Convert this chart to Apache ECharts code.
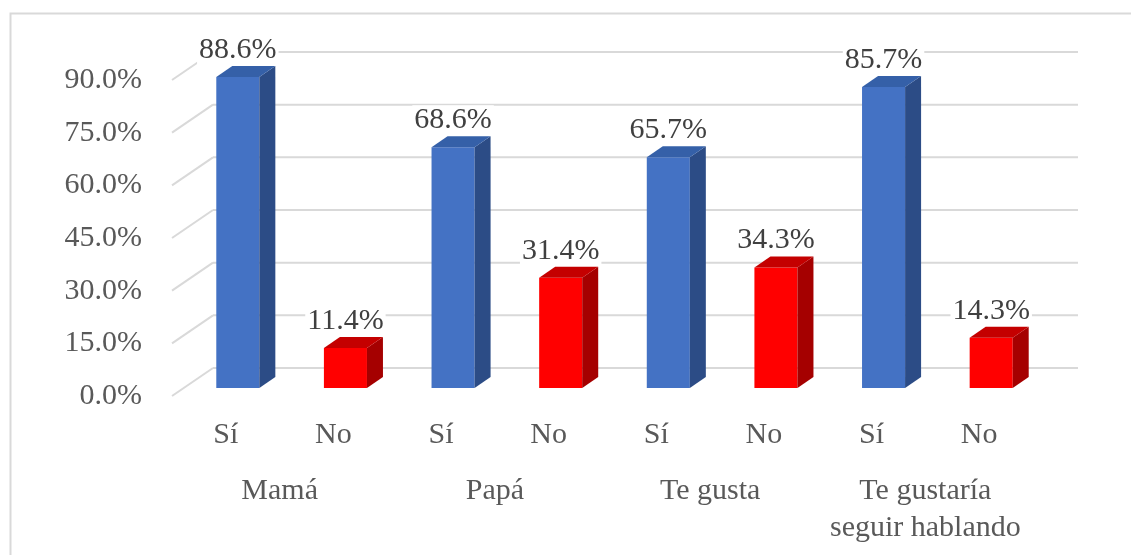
<!DOCTYPE html>
<html>
<head>
<meta charset="utf-8">
<script src="https://cdn.jsdelivr.net/npm/echarts@6/dist/echarts.min.js"></script>
<style>html,body{margin:0;padding:0;background:#fff;}#c{width:1131px;height:555px;}</style>
</head>
<body>
<div id="c"></div>
<script>
const categories = ['Sí', 'No', 'Sí', 'No', 'Sí', 'No', 'Sí', 'No'];
const groups = ['Mamá', 'Papá', 'Te gusta', 'Te gustaría\nseguir hablando'];
const values = [88.6, 11.4, 68.6, 31.4, 65.7, 34.3, 85.7, 14.3];
const yTicks = [0, 15, 30, 45, 60, 75, 90];

const FONT = '"Liberation Serif", "Times New Roman", serif';
const palette = {
  'Sí': { front: '#4472C4', side: '#2C4C86', top: '#3560A8' },
  'No': { front: '#FF0000', side: '#A50000', top: '#C40000' }
};
// perspective offsets (pixels)
const WALL = [41, -28];   // front plane -> back wall
const BAR = [12, -8];     // front plane -> bar front face
const DEPTH = [16, -11];  // bar depth

const chart = echarts.init(document.getElementById('c'), null, { renderer: 'canvas' });

const option = {
  animation: false,
  backgroundColor: '#fff',
  graphic: [{
    type: 'rect', silent: true, z: -10,
    shape: { x: 10.5, y: 13.5, width: 1300, height: 700 },
    style: { fill: 'none', stroke: '#d9d9d9', lineWidth: 2 }
  }],
  grid: { left: 172, right: 98, top: 80, bottom: 159, containLabel: false },
  xAxis: [{
    type: 'category', data: categories, position: 'bottom',
    axisLine: { show: false }, axisTick: { show: false },
    axisLabel: { margin: 24, fontSize: 30, fontFamily: FONT, color: '#595959', interval: 0 }
  }, {
    type: 'category', data: groups, position: 'bottom', offset: 0,
    axisLine: { show: false }, axisTick: { show: false },
    axisLabel: { margin: 77, fontSize: 30, lineHeight: 37, fontFamily: FONT, color: '#595959', interval: 0, align: 'center' }
  }],
  yAxis: {
    type: 'value', min: 0, max: 90, interval: 15,
    axisLine: { show: false }, axisTick: { show: false }, splitLine: { show: false },
    axisLabel: { margin: 30, fontSize: 30, fontFamily: FONT, color: '#595959',
      padding: [5, 0, 0, 0],
      formatter: v => v.toFixed(1) + '%' }
  },
  series: [{
    type: 'custom', name: 'grid', silent: true, z: 1,
    data: yTicks.map(t => [0, t]),
    renderItem: function (params, api) {
      const cs = params.coordSys;
      const y = api.coord([0, api.value(1)])[1];
      const lx = cs.x, rx = cs.x + cs.width;
      const st = { stroke: '#d9d9d9', lineWidth: 2 };
      return {
        type: 'group', children: [
          { type: 'line', shape: { x1: lx, y1: y, x2: lx + WALL[0], y2: y + WALL[1] }, style: st },
          { type: 'line', shape: { x1: lx + WALL[0], y1: y + WALL[1], x2: rx + WALL[0] + 4, y2: y + WALL[1] }, style: st }
        ]
      };
    }
  }, {
    type: 'custom', name: 'bars', z: 5,
    data: values.map((v, i) => [i, v]),
    renderItem: function (params, api) {
      const i = api.value(0), v = api.value(1);
      const p = api.coord([i, v]);
      const p0 = api.coord([i, 0]);
      const w = api.size([1, 0])[0] * 0.4;
      const col = palette[categories[i]];
      const x0 = p[0] - w / 2 + BAR[0], x1 = x0 + w;
      const yt = p[1] + BAR[1], yb = p0[1] + BAR[1];
      const dx = DEPTH[0], dy = DEPTH[1];
      return {
        type: 'group', children: [
          { type: 'rect', shape: { x: x0, y: yt, width: w, height: yb - yt }, style: { fill: col.front } },
          { type: 'polygon', shape: { points: [[x1, yb], [x1, yt], [x1 + dx, yt + dy], [x1 + dx, yb + dy]] }, style: { fill: col.side } },
          { type: 'polygon', shape: { points: [[x0, yt], [x1, yt], [x1 + dx, yt + dy], [x0 + dx, yt + dy]] }, style: { fill: col.top } },
          { type: 'text', z2: 10, style: {
              x: p[0] + BAR[0], y: yt - 27, text: v.toFixed(1) + '%',
              align: 'center', verticalAlign: 'middle',
              font: '30px ' + FONT, fill: '#404040',
              backgroundColor: '#fff', padding: [0, 2]
          } }
        ]
      };
    }
  }]
};
chart.setOption(option);
</script>
</body>
</html>
